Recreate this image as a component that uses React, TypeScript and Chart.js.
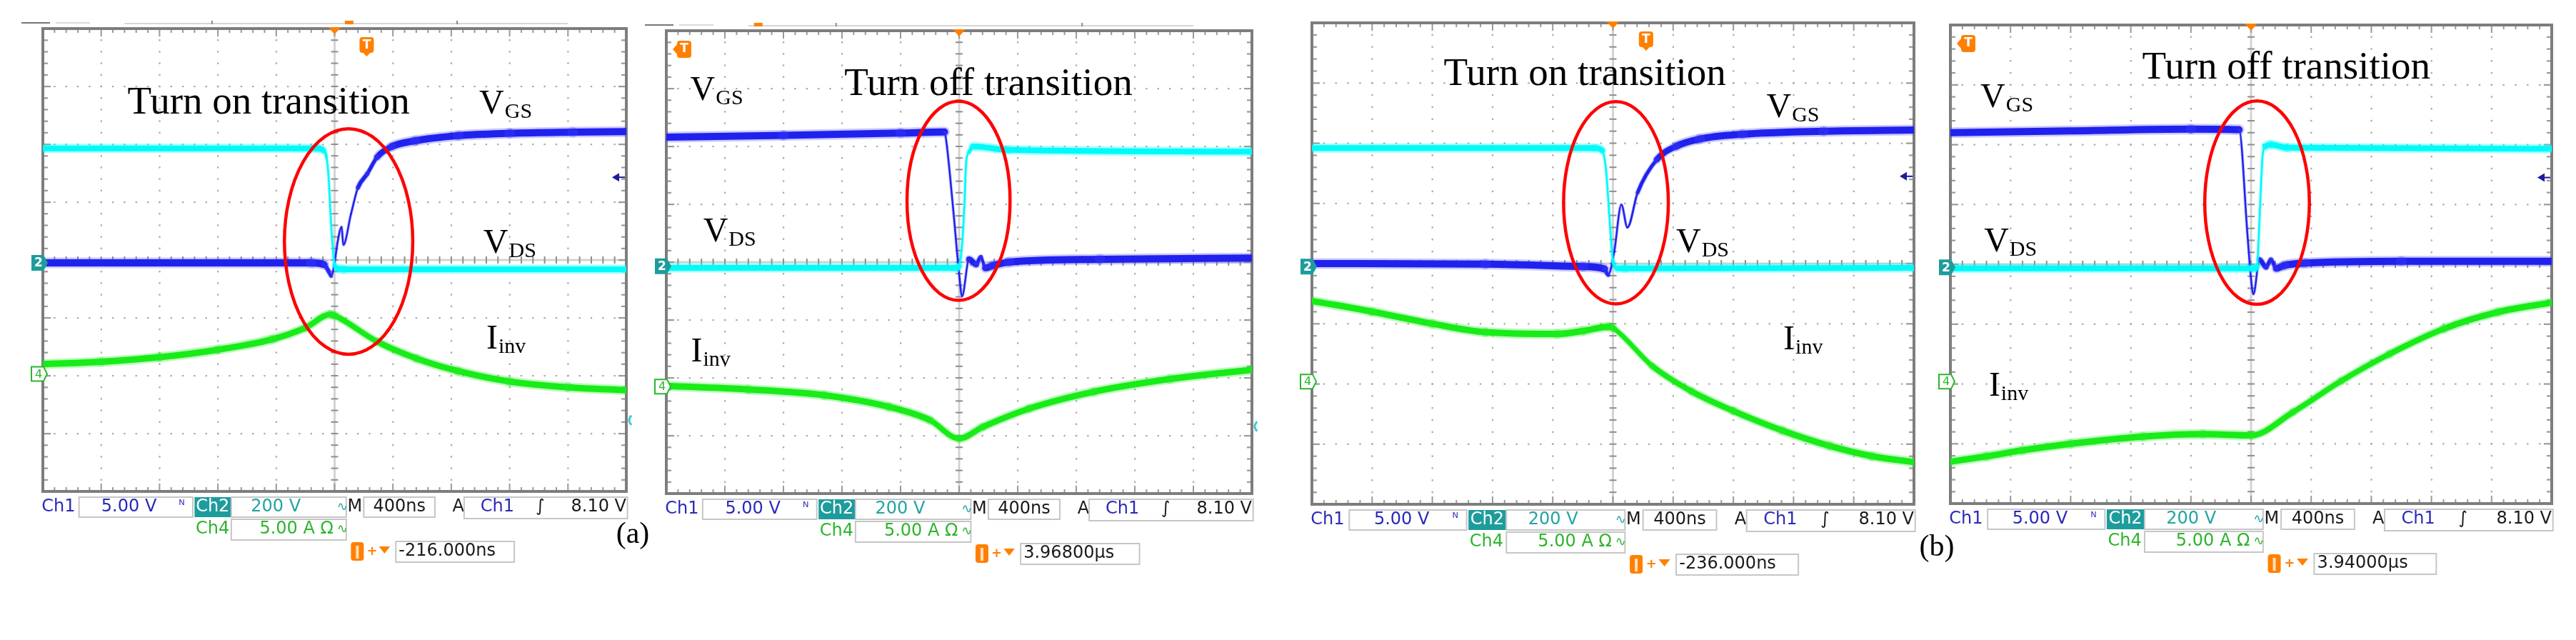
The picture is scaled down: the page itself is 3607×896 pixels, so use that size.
import React, { useEffect, useRef } from "react";
import { Chart, registerables } from "chart.js";
Chart.register(...registerables);

// ---------- DATA (x: horizontal divisions 0..10, y: vertical divisions 0..8) ----------
// (a) turn on
const p1CyanX = [0, 4.7, 4.8, 4.86, 4.9, 4.93, 4.97, 5.0, 5.06, 5.15, 10];
const p1CyanY = [5.93, 5.93, 5.9, 5.78, 5.4, 4.8, 4.2, 3.92, 3.85, 3.84, 3.84];
const p1BlueX = [0, 4.6, 4.82, 4.9, 4.94, 5.0, 5.05, 5.12, 5.15, 5.28, 5.4, 5.56, 5.73, 5.98, 6.38, 7.12, 8.0, 9.08, 10];
const p1BlueY = [3.95, 3.95, 3.92, 3.8, 3.72, 3.95, 4.3, 4.57, 4.26, 4.79, 5.25, 5.49, 5.78, 5.96, 6.06, 6.15, 6.19, 6.21, 6.22];
const p1GreenX = [0, 1, 2, 3, 3.93, 4.5, 4.93, 5.0, 5.73, 6.4, 7.12, 8, 9, 10];
const p1GreenY = [2.2, 2.24, 2.32, 2.45, 2.63, 2.83, 3.06, 3.04, 2.59, 2.3, 2.08, 1.9, 1.8, 1.75];
// (a) turn off
const p2BlueX = [0, 2, 4, 4.75, 4.78, 4.9, 5.0, 5.05, 5.17, 5.29, 5.37, 5.45, 5.57, 5.85, 7.4, 10];
const p2BlueY = [6.16, 6.19, 6.23, 6.25, 6.1, 4.9, 3.8, 3.41, 4.05, 3.96, 4.09, 3.9, 3.94, 4.0, 4.05, 4.07];
const p2CyanX = [0, 4.95, 5.0, 5.05, 5.09, 5.12, 5.17, 5.24, 5.85, 10];
const p2CyanY = [3.9, 3.9, 3.93, 4.3, 4.99, 5.73, 5.9, 6.0, 5.94, 5.91];
const p2GreenX = [0, 1.4, 2.7, 3.8, 4.5, 5.0, 5.4, 6.2, 7.3, 8.6, 10];
const p2GreenY = [1.86, 1.8, 1.7, 1.5, 1.27, 0.95, 1.15, 1.47, 1.76, 1.98, 2.14];
// (b) turn on
const p3CyanX = [0, 4.7, 4.82, 4.88, 4.92, 4.96, 5.0, 5.08, 5.2, 10];
const p3CyanY = [5.92, 5.92, 5.88, 5.6, 5.1, 4.5, 4.05, 3.92, 3.92, 3.93];
const p3BlueX = [0, 2.88, 4.5, 4.86, 4.92, 5.02, 5.14, 5.24, 5.41, 5.73, 6.05, 6.44, 7.15, 8.5, 10];
const p3BlueY = [4.0, 3.99, 3.95, 3.91, 3.81, 4.19, 4.98, 4.6, 5.18, 5.73, 5.95, 6.07, 6.15, 6.2, 6.22];
const p3GreenX = [0, 1, 2, 2.88, 4.07, 4.5, 4.93, 5.0, 5.65, 6.3, 7.0, 7.8, 8.6, 9.3, 10];
const p3GreenY = [3.38, 3.2, 3.0, 2.86, 2.83, 2.88, 2.95, 2.93, 2.3, 1.88, 1.55, 1.23, 0.97, 0.8, 0.7];
// (b) turn off
const p4BlueX = [0, 2, 4, 4.8, 4.94, 5.0, 5.04, 5.14, 5.25, 5.33, 5.42, 5.55, 5.9, 7.5, 10];
const p4BlueY = [6.2, 6.23, 6.26, 6.25, 4.5, 3.75, 3.5, 4.08, 3.95, 4.08, 3.93, 3.98, 4.02, 4.05, 4.05];
const p4CyanX = [0, 5.05, 5.1, 5.13, 5.16, 5.19, 5.24, 5.33, 5.6, 10];
const p4CyanY = [3.93, 3.93, 3.96, 4.5, 5.2, 5.8, 5.97, 6.0, 5.95, 5.93];
const p4GreenX = [0, 0.6, 1.2, 2, 3.2, 4.2, 5.0, 5.7, 6.5, 7.3, 8.2, 9.1, 10];
const p4GreenY = [0.7, 0.79, 0.89, 1.0, 1.12, 1.16, 1.14, 1.53, 2.05, 2.5, 2.92, 3.2, 3.36];

// ---------- TEXT ----------
const transitionTitles = ["Turn on transition", "Turn off transition", "Turn on transition", "Turn off transition"];
const triggerDelays = ["-216.000ns", "3.96800\u00b5s", "-236.000ns", "3.94000\u00b5s"];
const figureLabels = ["(a)", "", "(b)", ""];
const ch1Scale = "5.00 V";
const ch2Scale = "200 V";
const ch4Scale = "5.00 A \u03a9";
const timeBase = "400ns";
const trigLevel = "8.10 V";

// ---------- STYLE / LAYOUT ----------
const STY: any = {
  cyan: { core: "#00f6f6", halo: "rgba(0,255,255,0.35)", w: 8, hw: 13, min: 2.5 },
  blue: { core: "#1414e6", halo: "rgba(70,70,255,0.28)", w: 10, hw: 15, min: 2.5 },
  green: { core: "#12ea12", halo: "rgba(40,240,40,0.3)", w: 9, hw: 14, min: 3 },
};

type P = {
  L: number; T: number; R: number; B: number;
  traces: { xs: number[]; ys: number[]; kind: string }[];
  title: [number, number]; vgs: [number, number]; vds: [number, number]; iinv: [number, number];
  ellipse: [number, number, number, number];
  ch2: number; ch4: number; arrowRight: number | null; cyanRight: number | null; trigLeft: boolean; idx: number;
  figX: number; recordBar: boolean; recMark: number | null;
};

const panels: P[] = [
  {
    L: 60, T: 40, R: 877, B: 688, idx: 0,
    traces: [
      { xs: p1GreenX, ys: p1GreenY, kind: "green" },
      { xs: p1CyanX, ys: p1CyanY, kind: "cyan" },
      { xs: p1BlueX, ys: p1BlueY, kind: "blue" },
    ],
    title: [1.45, 6.53], vgs: [7.48, 6.53], vds: [7.55, 4.12], iinv: [7.6, 2.47],
    ellipse: [5.24, 4.32, 1.1, 1.95], ch2: 3.95, ch4: 2.03, arrowRight: 5.43, cyanRight: 1.23, trigLeft: false, figX: 9,
    recordBar: true, recMark: 5.25,
  },
  {
    L: 933, T: 43, R: 1753, B: 691, idx: 1,
    traces: [
      { xs: p2GreenX, ys: p2GreenY, kind: "green" },
      { xs: p2CyanX, ys: p2CyanY, kind: "cyan" },
      { xs: p2BlueX, ys: p2BlueY, kind: "blue" },
    ],
    title: [3.04, 6.89], vgs: [0.41, 6.8], vds: [0.63, 4.36], iinv: [0.42, 2.28],
    ellipse: [4.99, 5.06, 0.88, 1.72], ch2: 3.93, ch4: 1.85, arrowRight: null, cyanRight: 1.16, trigLeft: true, figX: 0,
    recordBar: true, recMark: 1.57,
  },
  {
    L: 1837, T: 32, R: 2680, B: 706, idx: 2,
    traces: [
      { xs: p3GreenX, ys: p3GreenY, kind: "green" },
      { xs: p3CyanX, ys: p3CyanY, kind: "cyan" },
      { xs: p3BlueX, ys: p3BlueY, kind: "blue" },
    ],
    title: [2.19, 6.97], vgs: [7.55, 6.43], vds: [6.05, 4.19], iinv: [7.83, 2.57],
    ellipse: [5.05, 5.01, 0.87, 1.68], ch2: 3.95, ch4: 2.04, arrowRight: 5.45, cyanRight: null, trigLeft: false, figX: 32,
    recordBar: false, recMark: null,
  },
  {
    L: 2731, T: 35, R: 3573, B: 705, idx: 3,
    traces: [
      { xs: p4GreenX, ys: p4GreenY, kind: "green" },
      { xs: p4CyanX, ys: p4CyanY, kind: "cyan" },
      { xs: p4BlueX, ys: p4BlueY, kind: "blue" },
    ],
    title: [3.19, 7.11], vgs: [0.5, 6.63], vds: [0.56, 4.22], iinv: [0.64, 1.8],
    ellipse: [5.1, 5.03, 0.87, 1.7], ch2: 3.95, ch4: 2.04, arrowRight: 5.45, cyanRight: null, trigLeft: true, figX: 0,
    recordBar: false, recMark: null,
  },
];

const PAD_L = 60;
const PAD_R = 80;
const PAGE_W = 3607;
const PAGE_H = 896;

// ---------- DRAW HELPERS ----------
function drawGrid(ctx: CanvasRenderingContext2D, ca: any) {
  const { left, top, right, bottom } = ca;
  const dx = (right - left) / 10;
  const dy = (bottom - top) / 8;
  ctx.save();
  ctx.fillStyle = "#a9a9a9";
  for (let i = 1; i < 10; i++) {
    if (i === 5) continue;
    const x = left + i * dx;
    for (let j = 1; j < 40; j++) ctx.fillRect(x - 1, top + (j * dy) / 5 - 1.2, 2.2, 2.4);
  }
  for (let k = 1; k < 8; k++) {
    if (k === 4) continue;
    const y = top + k * dy;
    for (let j = 1; j < 50; j++) ctx.fillRect(left + (j * dx) / 5 - 1.2, y - 1, 2.4, 2.2);
  }
  const cx = left + 5 * dx;
  const cy = top + 4 * dy;
  ctx.fillStyle = "#d3d3d3";
  ctx.fillRect(cx - 1.5, top, 3, bottom - top);
  ctx.fillRect(left, cy - 1.5, right - left, 3);
  ctx.fillStyle = "#8e8e8e";
  for (let j = 1; j < 40; j++) ctx.fillRect(cx - 5, top + (j * dy) / 5 - 1, 10, 2);
  for (let j = 1; j < 50; j++) ctx.fillRect(left + (j * dx) / 5 - 1, cy - 5, 2, 10);
  ctx.fillStyle = "#9a9a9a";
  for (let j = 1; j < 50; j++) {
    const x = left + (j * dx) / 5;
    const len = j % 5 === 0 ? 11 : 6;
    ctx.fillRect(x - 1, top, 2, len);
    ctx.fillRect(x - 1, bottom - len, 2, len);
  }
  for (let j = 1; j < 40; j++) {
    const y = top + (j * dy) / 5;
    const len = j % 5 === 0 ? 11 : 7;
    ctx.fillRect(left, y - 1, len, 2.2);
    ctx.fillRect(right - len, y - 1, len, 2.2);
  }
  ctx.strokeStyle = "#7d7d7d";
  ctx.lineWidth = 4;
  ctx.strokeRect(left, top, right - left, bottom - top);
  ctx.restore();
}

function subText(ctx: CanvasRenderingContext2D, main: string, sub: string, x: number, y: number, mainSize: number, subSize: number) {
  ctx.font = `${mainSize}px "Liberation Serif", "Times New Roman", serif`;
  ctx.fillText(main, x, y);
  const w = ctx.measureText(main).width;
  ctx.font = `${subSize}px "Liberation Serif", "Times New Roman", serif`;
  ctx.fillText(sub, x + w + 1, y + 6);
}

function tBox(ctx: CanvasRenderingContext2D, x: number, y: number, dir: "left" | "down") {
  ctx.save();
  ctx.fillStyle = "#ff8000";
  ctx.beginPath();
  if (dir === "left") {
    ctx.moveTo(x - 7, y);
    ctx.lineTo(x, y - 8);
    ctx.lineTo(x, y + 8);
    ctx.closePath();
    ctx.fill();
    ctx.beginPath();
    ctx.roundRect(x - 1, y - 12, 20, 24, 4);
    ctx.fill();
  } else {
    ctx.roundRect(x - 10, y - 12, 20, 22, 4);
    ctx.fill();
    ctx.beginPath();
    ctx.moveTo(x - 6, y + 9);
    ctx.lineTo(x + 6, y + 9);
    ctx.lineTo(x, y + 15);
    ctx.closePath();
    ctx.fill();
  }
  ctx.fillStyle = "#ffffff";
  ctx.font = 'bold 17px "DejaVu Sans", sans-serif';
  ctx.textAlign = "center";
  ctx.textBaseline = "middle";
  ctx.fillText("T", dir === "left" ? x + 9 : x, y);
  ctx.restore();
}

function statusBar(ctx: CanvasRenderingContext2D, ca: any, p: P) {
  const L = ca.left;
  const d = (ca.right - ca.left) / 10;
  const B = ca.bottom;
  ctx.save();
  const font = '24px "DejaVu Sans", sans-serif';
  const box = (x0: number, x1: number, y0: number, y1: number) => {
    ctx.strokeStyle = "#c6c6c6";
    ctx.lineWidth = 2;
    ctx.strokeRect(L + x0 * d, B + y0, (x1 - x0) * d, y1 - y0);
  };
  const text = (s: string, x: number, y: number, color: string, align: CanvasTextAlign = "left", f = font) => {
    ctx.font = f;
    ctx.fillStyle = color;
    ctx.textAlign = align;
    ctx.textBaseline = "middle";
    ctx.fillText(s, L + x * d, y);
  };
  const r1 = B + 22, r2 = B + 53, r3 = B + 84;
  const blue = "#2a2ab8", teal = "#24a3a3", green = "#2cb52c", black = "#1a1a1a", orange = "#ff8000";
  text("Ch1", -0.02, r1, blue);
  box(0.62, 2.57, 8, 36);
  text(ch1Scale, 1.95, r1, blue, "right");
  text("\u1d3a", 2.33, r1 - 2, blue, "left", '18px "DejaVu Sans", sans-serif');
  ctx.fillStyle = "#1e9c9c";
  ctx.fillRect(L + 2.6 * d, B + 8, 0.62 * d, 28);
  text("Ch2", 2.91, r1, "#ffffff", "center");
  box(3.23, 5.2, 8, 36);
  text(ch2Scale, 4.42, r1, teal, "right");
  text("\u223f", 5.04, r1, teal, "left", '18px "DejaVu Sans", sans-serif');
  text("M", 5.22, r1, black);
  box(5.5, 6.72, 8, 36);
  text(timeBase, 6.11, r1, black, "center");
  text("A", 7.02, r1, black);
  box(7.22, 10.02, 8, 38);
  text("Ch1", 7.5, r1, blue);
  text("\u222b", 8.45, r1, black);
  text(trigLevel, 10.0, r1, black, "right");
  text("Ch4", 2.62, r2, green);
  box(3.23, 5.2, 39, 68);
  text(ch4Scale, 4.98, r2, green, "right");
  text("\u223f", 5.04, r2, green, "left", '18px "DejaVu Sans", sans-serif');
  ctx.fillStyle = orange;
  ctx.beginPath();
  ctx.roundRect(L + 5.28 * d, r3 - 13, 18, 26, 4);
  ctx.fill();
  ctx.fillStyle = "#ffe0c0";
  ctx.fillRect(L + 5.28 * d + 7, r3 - 8, 4, 18);
  text("+", 5.55, r3, orange, "left", 'bold 18px "DejaVu Sans", sans-serif');
  ctx.fillStyle = orange;
  ctx.beginPath();
  ctx.moveTo(L + 5.76 * d, r3 - 7);
  ctx.lineTo(L + 5.95 * d, r3 - 7);
  ctx.lineTo(L + 5.855 * d, r3 + 3);
  ctx.closePath();
  ctx.fill();
  box(6.05, 8.08, 70, 99);
  text(triggerDelays[p.idx], 6.1, r3, black);
  ctx.restore();
}

function makeAnnotPlugin(p: P) {
  return {
    id: "scopeAnnot" + p.idx,
    beforeDatasetsDraw(chart: any) {
      drawGrid(chart.ctx, chart.chartArea);
    },
    afterDatasetsDraw(chart: any) {
      const ctx: CanvasRenderingContext2D = chart.ctx;
      const ca = chart.chartArea;
      const xs = chart.scales.x;
      const ys = chart.scales.y;
      const X = (v: number) => xs.getPixelForValue(v);
      const Y = (v: number) => ys.getPixelForValue(v);
      const dx = (ca.right - ca.left) / 10;
      const dy = (ca.bottom - ca.top) / 8;
      ctx.save();
      // record bar above the graticule
      if (p.recordBar) {
        ctx.fillStyle = "#d6d6d6";
        ctx.fillRect(X(1.4), ca.top - 8, X(9.0) - X(1.4), 2);
        ctx.fillStyle = "#8a8a8a";
        ctx.fillRect(X(2.9) - 1, ca.top - 11, 2, 5);
        ctx.fillRect(X(7.1) - 1, ca.top - 11, 2, 5);
        ctx.fillStyle = "#777";
        ctx.fillRect(ca.left - 30, ca.top - 9, 40, 2);
        ctx.fillStyle = "#dadada";
        ctx.fillRect(ca.left + 18, ca.top - 9, 48, 2);
      }
      if (p.recMark !== null) {
        ctx.fillStyle = "#ff8000";
        ctx.fillRect(X(p.recMark) - 6, ca.top - 11, 12, 5);
      }
      // red ellipse
      const [ecx, ecy, erx, ery] = p.ellipse;
      ctx.strokeStyle = "#ff0000";
      ctx.lineWidth = 4.5;
      ctx.beginPath();
      ctx.ellipse(X(ecx), Y(ecy), erx * dx, ery * dy, 0, 0, Math.PI * 2);
      ctx.stroke();
      // labels
      ctx.fillStyle = "#000000";
      ctx.textAlign = "left";
      ctx.textBaseline = "alphabetic";
      ctx.font = '55px "Liberation Serif", "Times New Roman", serif';
      ctx.fillText(transitionTitles[p.idx], X(p.title[0]), Y(p.title[1]));
      subText(ctx, "V", "GS", X(p.vgs[0]), Y(p.vgs[1]), 48, 30);
      subText(ctx, "V", "DS", X(p.vds[0]), Y(p.vds[1]), 48, 30);
      subText(ctx, "I", "inv", X(p.iinv[0]), Y(p.iinv[1]), 48, 30);
      // channel ground markers (left)
      const y2 = Y(p.ch2);
      ctx.fillStyle = "#1e9c9c";
      ctx.beginPath();
      ctx.moveTo(ca.left - 16, y2 - 11);
      ctx.lineTo(ca.left + 1, y2 - 11);
      ctx.lineTo(ca.left + 7, y2);
      ctx.lineTo(ca.left + 1, y2 + 11);
      ctx.lineTo(ca.left - 16, y2 + 11);
      ctx.closePath();
      ctx.fill();
      ctx.fillStyle = "#ffffff";
      ctx.font = 'bold 17px "DejaVu Sans", sans-serif';
      ctx.textAlign = "center";
      ctx.textBaseline = "middle";
      ctx.fillText("2", ca.left - 6, y2 + 1);
      const y4 = Y(p.ch4);
      ctx.fillStyle = "#ffffff";
      ctx.strokeStyle = "#2cb52c";
      ctx.lineWidth = 2;
      ctx.beginPath();
      ctx.moveTo(ca.left - 16, y4 - 10);
      ctx.lineTo(ca.left + 1, y4 - 10);
      ctx.lineTo(ca.left + 6, y4);
      ctx.lineTo(ca.left + 1, y4 + 10);
      ctx.lineTo(ca.left - 16, y4 + 10);
      ctx.closePath();
      ctx.fill();
      ctx.stroke();
      ctx.fillStyle = "#2cb52c";
      ctx.font = '16px "DejaVu Sans", sans-serif';
      ctx.fillText("4", ca.left - 6, y4 + 1);
      // trigger level arrow (right)
      if (p.arrowRight !== null) {
        const ya = Y(p.arrowRight);
        ctx.fillStyle = "#1c1c9a";
        ctx.beginPath();
        ctx.moveTo(ca.right - 20, ya);
        ctx.lineTo(ca.right - 10, ya - 6);
        ctx.lineTo(ca.right - 10, ya + 6);
        ctx.closePath();
        ctx.fill();
        ctx.fillRect(ca.right - 11, ya - 1, 9, 2);
      }
      if (p.cyanRight !== null) {
        const yc = Y(p.cyanRight);
        ctx.strokeStyle = "#40c8c8";
        ctx.lineWidth = 3;
        ctx.beginPath();
        ctx.arc(ca.right + 12, yc, 8, Math.PI * 0.7, Math.PI * 1.3);
        ctx.stroke();
      }
      // trigger markers
      ctx.fillStyle = "#ff8000";
      ctx.beginPath();
      ctx.moveTo(X(5) - 9, ca.top - 2);
      ctx.lineTo(X(5) + 9, ca.top - 2);
      ctx.lineTo(X(5), ca.top + 8);
      ctx.closePath();
      ctx.fill();
      if (p.trigLeft) tBox(ctx, ca.left + 16, ca.top + 26, "left");
      else tBox(ctx, X(5.55), ca.top + 24, "down");
      // figure label
      if (figureLabels[p.idx]) {
        ctx.fillStyle = "#000";
        ctx.font = '42px "Liberation Serif", "Times New Roman", serif';
        ctx.textAlign = "center";
        ctx.textBaseline = "alphabetic";
        ctx.fillText(figureLabels[p.idx], ca.right + p.figX, ca.bottom + 72);
      }
      ctx.restore();
      statusBar(ctx, ca, p);
    },
  };
}

function segWidth(s: any, ctx: any) {
  const dxp = ctx.p1.x - ctx.p0.x;
  const dyp = ctx.p1.y - ctx.p0.y;
  const len = Math.hypot(dxp, dyp) || 1;
  return Math.max(s.min, (s.w * Math.abs(dxp)) / len);
}

function buildDatasets(p: P) {
  const ds: any[] = [];
  for (const tr of p.traces) {
    const s = STY[tr.kind];
    const data = tr.xs.map((x, i) => ({ x, y: tr.ys[i] }));
    const haloS = { w: s.hw, min: s.min + 2 };
    ds.push({
      data,
      borderColor: s.halo,
      borderWidth: s.hw,
      borderCapStyle: "round",
      borderJoinStyle: "round",
      pointRadius: 0,
      cubicInterpolationMode: "monotone",
      segment: { borderWidth: (c: any) => segWidth(haloS, c) },
    });
    ds.push({
      data,
      borderColor: s.core,
      borderWidth: s.w,
      borderCapStyle: "round",
      borderJoinStyle: "round",
      pointRadius: 0,
      cubicInterpolationMode: "monotone",
      segment: { borderWidth: (c: any) => segWidth(s, c) },
    });
  }
  return ds;
}

function ScopePanel({ p }: { p: P }) {
  const ref = useRef<HTMLCanvasElement | null>(null);
  const cw = p.R - p.L + PAD_L + PAD_R;
  useEffect(() => {
    if (!ref.current) return;
    const chart = new Chart(ref.current, {
      type: "line",
      data: { datasets: buildDatasets(p) },
      options: {
        animation: false,
        responsive: false,
        devicePixelRatio: 1,
        events: [],
        layout: { padding: { left: PAD_L, right: PAD_R, top: p.T, bottom: PAGE_H - p.B } },
        scales: {
          x: { type: "linear", min: 0, max: 10, display: false },
          y: { type: "linear", min: 0, max: 8, display: false },
        },
        plugins: { legend: { display: false }, tooltip: { enabled: false } },
      } as any,
      plugins: [makeAnnotPlugin(p)],
    });
    return () => chart.destroy();
  }, []);
  return (
    <canvas
      ref={ref}
      width={cw}
      height={PAGE_H}
      style={{ position: "absolute", left: p.L - PAD_L, top: 0, width: cw, height: PAGE_H }}
    />
  );
}

export default function App() {
  return (
    <div style={{ position: "absolute", left: 0, top: 0, width: PAGE_W, height: PAGE_H, background: "#ffffff", overflow: "hidden" }}>
      {panels.map((p) => (
        <ScopePanel key={p.idx} p={p} />
      ))}
    </div>
  );
}
